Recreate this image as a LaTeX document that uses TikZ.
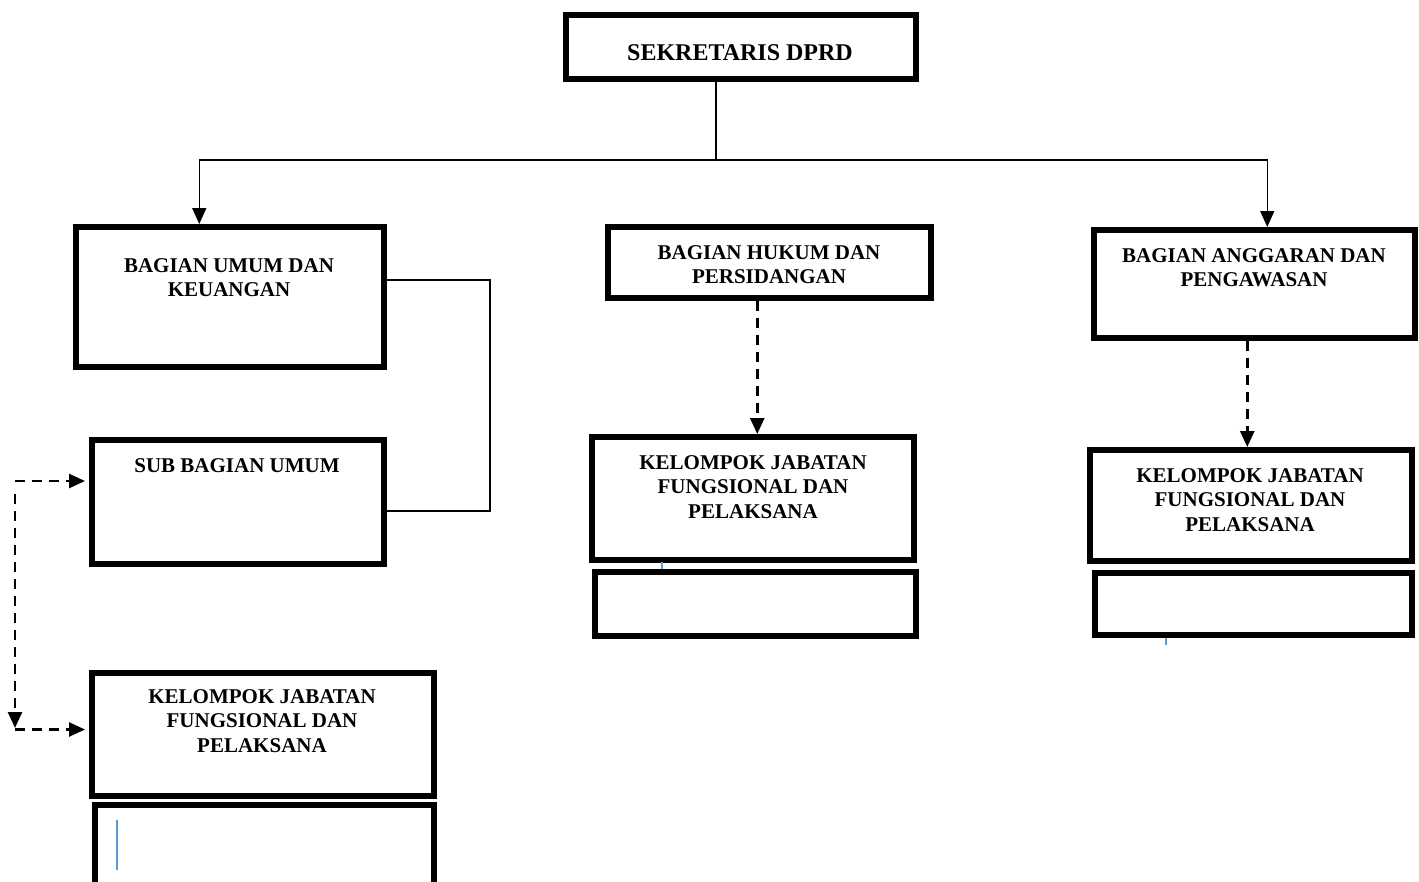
\documentclass[tikz,border=0pt]{standalone}
\usepackage{fontspec}
\setmainfont{Liberation Serif}
\usetikzlibrary{arrows.meta}
\definecolor{markblue}{RGB}{91,155,213}
\tikzset{
  box/.style={draw=black, line width=5.5pt, rectangle, inner sep=0pt, anchor=north west},
  lbl/.style={anchor=north, align=center, inner sep=0pt, font=\fontsize{21}{24.5}\selectfont\bfseries},
  toplbl/.style={anchor=north, align=center, inner sep=0pt, font=\fontsize{24}{26}\selectfont\bfseries},
  conn/.style={draw=black, line width=1.5pt},
  arr/.style={-{Triangle[length=16pt,width=14pt]}},
  dashconn/.style={draw=black, line width=2.5pt, dash pattern=on 10pt off 7pt},
  bluemark/.style={draw=markblue, line width=1.3pt}
}
\begin{document}
\begin{tikzpicture}[x=1pt,y=-1pt]
\useasboundingbox (0,0) rectangle (1419,881);
\clip (0,0) rectangle (1419,881);
\fill[white] (0,0) rectangle (1419,881);
% boxes (anchor = outer north west corner)
\node[box, minimum width=350pt, minimum height=64pt] (top) at (563,12) {};
\node[box, minimum width=308pt, minimum height=140pt] (umum) at (73,224) {};
\node[box, minimum width=292pt, minimum height=124pt] (sub) at (89,437) {};
\node[box, minimum width=342pt, minimum height=123pt] (kl) at (89,670) {};
\node[box, minimum width=339pt, minimum height=82pt] (klb) at (92,802) {};
\node[box, minimum width=323pt, minimum height=71pt] (hukum) at (605,224) {};
\node[box, minimum width=322pt, minimum height=123pt] (km) at (589,434) {};
\node[box, minimum width=321pt, minimum height=64pt] (kmb) at (592,569) {};
\node[box, minimum width=321pt, minimum height=108pt] (angg) at (1091,227) {};
\node[box, minimum width=322pt, minimum height=111pt] (kr) at (1087,447) {};
\node[box, minimum width=317pt, minimum height=62pt] (krb) at (1092,570) {};
% labels
\node[toplbl] (ttop) at (740,44) {SEKRETARIS DPRD};
\node[lbl] (tumum) at (229,258) {BAGIAN UMUM DAN\\KEUANGAN};
\node[lbl] (tsub) at (237,458) {SUB BAGIAN UMUM};
\node[lbl] (tkl) at (262,689) {KELOMPOK JABATAN\\FUNGSIONAL DAN\\PELAKSANA};
\node[lbl] (thukum) at (769,245) {BAGIAN HUKUM DAN\\PERSIDANGAN};
\node[lbl] (tkm) at (753,455) {KELOMPOK JABATAN\\FUNGSIONAL DAN\\PELAKSANA};
\node[lbl] (tangg) at (1254,248) {BAGIAN ANGGARAN DAN\\PENGAWASAN};
\node[lbl] (tkr) at (1250,468) {KELOMPOK JABATAN\\FUNGSIONAL DAN\\PELAKSANA};
% solid connectors
\coordinate (j) at (716,160);
\draw[conn] (j |- top.south) -- (j);
\draw[conn, arr] (j) -| ([xshift=-30.5pt]umum.north);
\draw[conn, arr] (j) -| ([xshift=13pt]angg.north);
\coordinate (k1) at (490,280);
\coordinate (k2) at (490,511);
\draw[conn] (k1 -| umum.east) -- (k1) -- (k2) -- (k2 -| sub.east);
% dashed connectors
\draw[dashconn, arr] ([xshift=4.5pt]km.north |- hukum.south) -- ([xshift=4.5pt]km.north);
\draw[dashconn, arr] ([xshift=-3.5pt]kr.north |- angg.south) -- ([xshift=-3.5pt]kr.north);
\coordinate (d1) at (15,481);
\coordinate (d2) at (15,494);
\coordinate (d3) at (15,728);
\coordinate (d4) at (15,729.5);
\draw[dashconn, arr, shorten >=4pt] (d1) -- (d1 -| sub.west);
\draw[dashconn, arr] (d2) -- (d3);
\draw[dashconn, arr, shorten >=4pt] (d4) -- (d4 -| kl.west);
% small blue marks
\draw[bluemark] (117,820) -- (117,870);
\draw[bluemark] (662,562) -- (662,569);
\draw[bluemark] (1166,638) -- (1166,645);
\end{tikzpicture}
\end{document}
